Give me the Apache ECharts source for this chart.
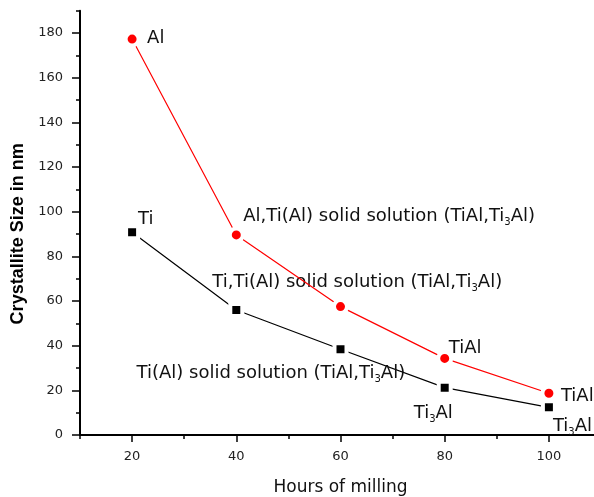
<!DOCTYPE html>
<html>
<head>
<meta charset="utf-8">
<script src="https://cdn.jsdelivr.net/npm/echarts@6/dist/echarts.min.js"></script>
<style>
  html, body { margin: 0; padding: 0; background: #fff; }
  #chart { width: 594px; height: 497px; }
</style>
</head>
<body>
<div id="chart"></div>
<script>
// ---- data ----
const hours = [20, 40, 60, 80, 100];
const alSize = [177.3, 89.6, 57.5, 34.3, 18.7];
const tiSize = [90.8, 56.0, 38.4, 21.2, 12.4];
const xMajorTicks = [20, 40, 60, 80, 100];
const yMajorTicks = [0, 20, 40, 60, 80, 100, 120, 140, 160, 180];
const alLabels = ['Al', 'Al,Ti(Al) solid solution (TiAl,Ti{s|3}Al)', '', 'TiAl', 'TiAl'];
const tiLabels = ['Ti', 'Ti,Ti(Al) solid solution (TiAl,Ti{s|3}Al)', 'Ti(Al) solid solution (TiAl,Ti{s|3}Al)', 'Ti{s|3}Al', 'Ti{s|3}Al'];

// ---- label placement (styles) ----
const alLabelOffsets = [[6.5, -1], [-1.5, -19], [0, 0], [-4.5, -10], [3.5, 3]];
const tiLabelOffsets = [[-2, -13], [-32, -28], [-212, 24], [-39, 26], [-4, 19]];

const annFont = { fontFamily: 'DejaVu Sans', fontSize: 18, color: '#111' };
const richSub = { s: { fontFamily: 'DejaVu Sans', fontSize: 10, color: '#111', padding: [12, 0, 0, 0] } };

function buildData(values, labels, offsets) {
  return hours.map((h, i) => ({
    value: [h, values[i]],
    label: {
      show: labels[i] !== '',
      formatter: labels[i],
      position: 'right',
      distance: 0,
      offset: offsets[i],
      align: 'left',
      ...annFont,
      rich: richSub
    }
  }));
}

const chart = echarts.init(document.getElementById('chart'), null, { renderer: 'canvas' });
const axisFont = { fontFamily: 'DejaVu Sans', fontSize: 13, color: '#222' };

chart.setOption({
  animation: false,
  backgroundColor: '#fff',
  grid: { left: 80, right: -7, top: 10.7, bottom: 62, containLabel: false, outerBoundsMode: 'none' },
  xAxis: [
    {
      type: 'value', min: 10, max: 110, interval: 10,
      position: 'bottom',
      axisLine: { show: true, onZero: false, lineStyle: { color: '#000', width: 2 } },
      axisTick: { show: true, length: 4, lineStyle: { color: '#000', width: 1.5 } },
      axisLabel: { show: true, customValues: xMajorTicks, margin: 15, ...axisFont },
      splitLine: { show: false },
      name: 'Hours of milling',
      nameLocation: 'middle',
      nameGap: 44,
      nameTextStyle: { fontFamily: 'DejaVu Sans', fontSize: 17, color: '#111' }
    },
    {
      type: 'value', min: 10, max: 110, interval: 10,
      position: 'bottom',
      axisLine: { show: false },
      axisTick: { show: true, customValues: xMajorTicks, length: 7, lineStyle: { color: '#000', width: 1.5 } },
      axisLabel: { show: false },
      splitLine: { show: false }
    }
  ],
  yAxis: [
    {
      type: 'value', min: 0, max: 190, interval: 10,
      position: 'left',
      axisLine: { show: true, onZero: false, lineStyle: { color: '#000', width: 2 } },
      axisTick: { show: true, length: 4, lineStyle: { color: '#000', width: 1.5 } },
      axisLabel: { show: true, customValues: yMajorTicks, margin: 17, ...axisFont },
      splitLine: { show: false },
      name: 'Crystallite Size in nm',
      nameLocation: 'middle',
      nameGap: 51,
      nameTextStyle: { fontFamily: 'Liberation Sans', fontWeight: 'bold', fontSize: 18, color: '#000', padding: [0, 22, 0, 0] }
    },
    {
      type: 'value', min: 0, max: 190, interval: 10,
      position: 'left',
      axisLine: { show: false },
      axisTick: { show: true, customValues: yMajorTicks, length: 8, lineStyle: { color: '#000', width: 1.5 } },
      axisLabel: { show: false },
      splitLine: { show: false }
    }
  ],
  series: [
    {
      name: 'Al',
      type: 'line',
      xAxisIndex: 0, yAxisIndex: 0,
      data: buildData(alSize, alLabels, alLabelOffsets),
      symbol: 'circle',
      symbolSize: 13,
      lineStyle: { color: '#ff0000', width: 1.2 },
      itemStyle: { color: '#ff0000', borderColor: '#fff', borderWidth: 4 },
      z: 3
    },
    {
      name: 'Ti',
      type: 'line',
      xAxisIndex: 0, yAxisIndex: 0,
      data: buildData(tiSize, tiLabels, tiLabelOffsets),
      symbol: 'rect',
      symbolSize: 12,
      lineStyle: { color: '#000', width: 1.2 },
      itemStyle: { color: '#000', borderColor: '#fff', borderWidth: 4 },
      z: 2
    }
  ]
});
</script>
</body>
</html>
